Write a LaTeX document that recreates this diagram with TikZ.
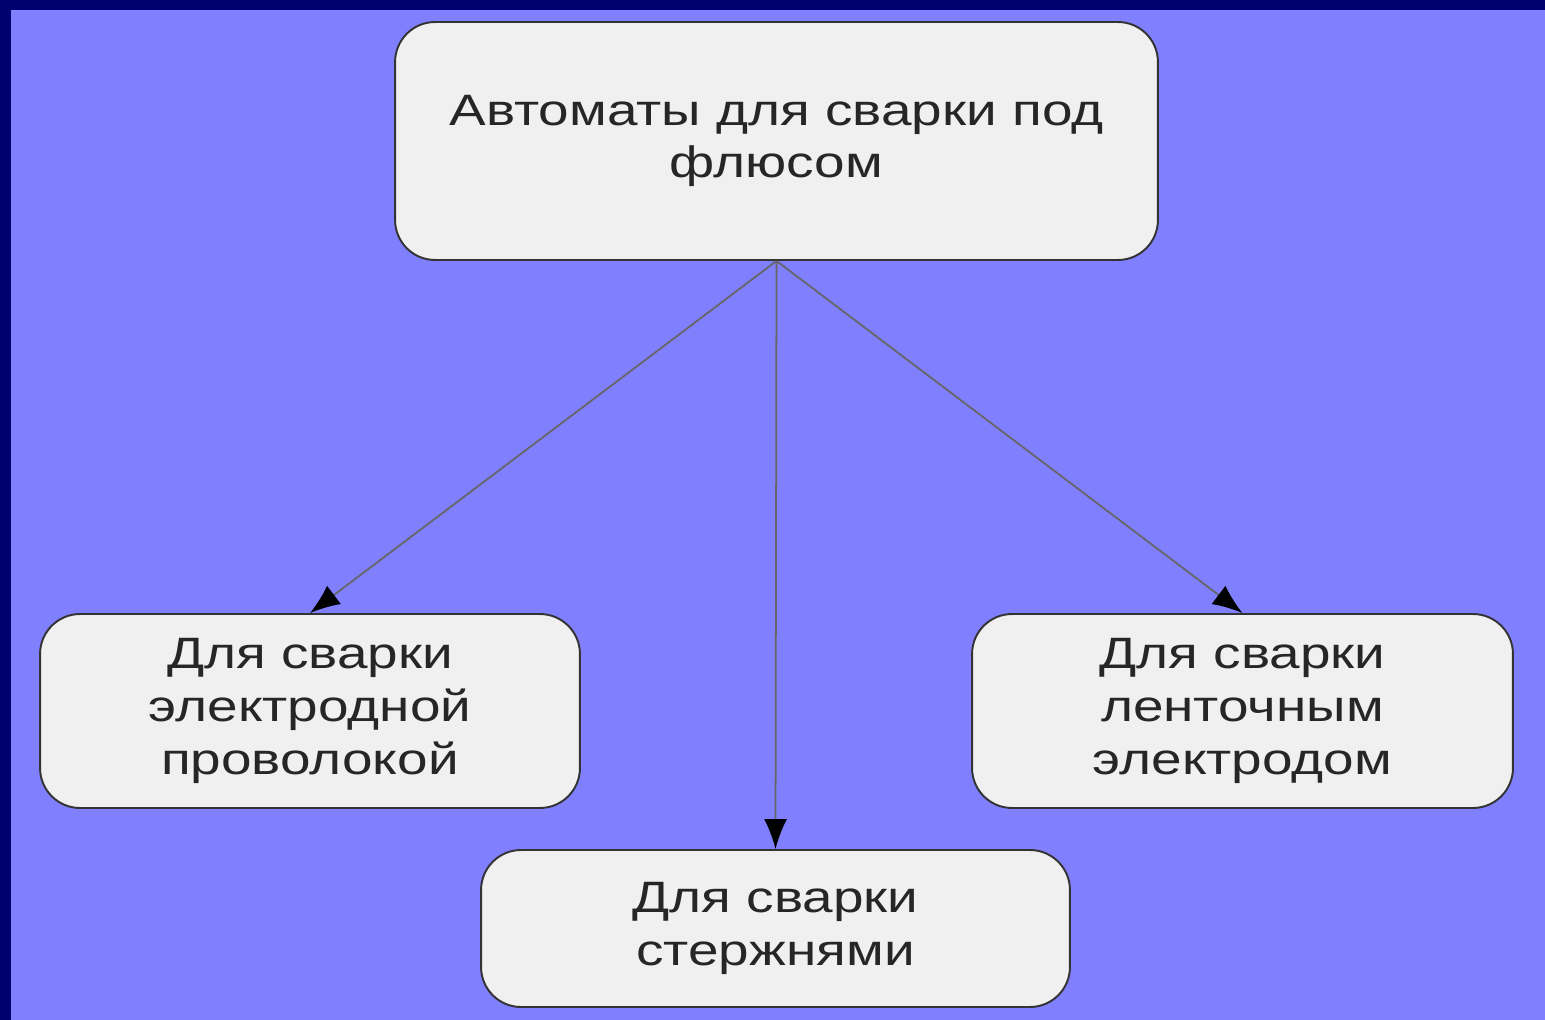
\documentclass[tikz,border=0pt]{standalone}
\usepackage{fontspec}
\setmainfont{Liberation Sans}[FakeStretch=1.25]
\usetikzlibrary{arrows.meta}
\definecolor{navy}{HTML}{000070}
\definecolor{slide}{HTML}{8080FF}
\definecolor{boxfill}{HTML}{F0F0F0}
\definecolor{boxline}{HTML}{333333}
\begin{document}
\begin{tikzpicture}[x=0.02cm,y=-0.02cm,
  block/.style={draw=boxline,fill=boxfill,line width=1.1pt,rounded corners=0.8cm,
    align=center,text=black!85,inner sep=0pt,
    font=\fontsize{25pt}{30pt}\selectfont},
  link/.style={draw=black!60,line width=1pt,-{Latex[length=0.6cm,width=0.46cm,black]}}]
  \fill[navy] (0,0) rectangle (1545,1020);
  \fill[slide] (11,10) rectangle (1545,1020);
  \node[block,minimum width=15.26cm,minimum height=4.76cm] (root) at (776.5,141)
    {Автоматы для сварки под\\флюсом};
  \node[block,minimum width=10.8cm,minimum height=3.88cm] (wire) at (310,711)
    {Для сварки\\электродной\\проволокой};
  \node[block,minimum width=10.82cm,minimum height=3.88cm] (strip) at (1242.5,711)
    {Для сварки\\ленточным\\электродом};
  \node[block,minimum width=11.78cm,minimum height=3.14cm] (rod) at (775.5,928.5)
    {Для сварки\\стержнями};
  \draw[link] (root.south) -- (wire.north);
  \draw[link] (root.south) -- (rod.north);
  \draw[link] (root.south) -- (strip.north);
\end{tikzpicture}
\end{document}
